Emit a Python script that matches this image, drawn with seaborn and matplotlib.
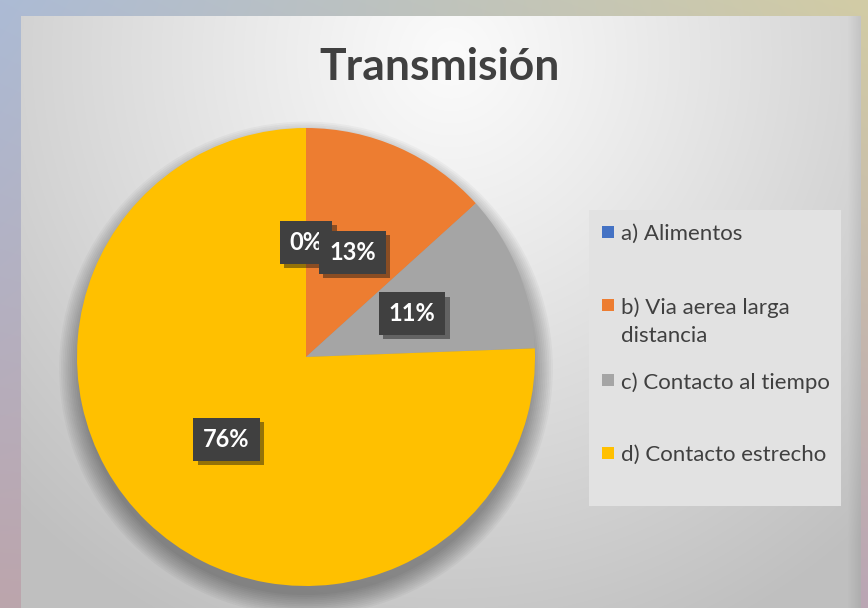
import numpy as np
import matplotlib
matplotlib.use("Agg")
import matplotlib.pyplot as plt
import matplotlib.patheffects as pe
from matplotlib.patches import Circle, Rectangle
import seaborn as sns

# ---- data ----
categories = ["a) Alimentos", "b) Via aerea larga\ndistancia", "c) Contacto al tiempo", "d) Contacto estrecho"]
values = [0, 13.3, 11.1, 75.6]
pct_labels = ["0%", "13%", "11%", "76%"]
colors = ["#4472C4", "#ED7D31", "#A5A5A5", "#FFC000"]
title = "Transmisión"

sns.set_theme(style="white")
plt.rcParams["font.family"] = ["Lato", "DejaVu Sans"]

W, H = 868, 608
fig = plt.figure(figsize=(W / 100, H / 100), dpi=100)

# outer blurred background
bg = fig.add_axes([0, 0, 1, 1], zorder=0)
yy, xx = np.mgrid[0:H, 0:W]
u = xx / (W - 1)
v = yy / (H - 1)
TL = np.array([172, 187, 213]); TR = np.array([210, 204, 165])
BL = np.array([188, 165, 172]); BR = np.array([186, 166, 180])
img = ((1 - u)[..., None] * (1 - v)[..., None] * TL + u[..., None] * (1 - v)[..., None] * TR
       + (1 - u)[..., None] * v[..., None] * BL + u[..., None] * v[..., None] * BR) / 255
bg.imshow(img, aspect="auto", extent=[0, 1, 0, 1])
bg.set_xlim(0, 1); bg.set_ylim(0, 1)
bg.axis("off")

# gray panel
px0, px1, py0 = 21, 861, 16
pw, ph = px1 - px0, H - py0
panel = fig.add_axes([px0 / W, 0, pw / W, ph / H], zorder=1)
py, pxg = np.mgrid[0:ph, 0:pw]
d = np.sqrt(((pxg - 430) / 620) ** 2 + ((py - 40) / 640) ** 2)
val = 251 - 60 * np.clip(d, 0, 1) ** 1.1
edge = np.clip((pxg - (pw - 14)) / 14, 0, 1)
val = val - 18 * edge
pimg = np.repeat((val / 255)[..., None], 3, axis=2)
panel.imshow(pimg, aspect="auto", extent=[0, 1, 0, 1])
panel.set_xlim(0, 1); panel.set_ylim(0, 1)
panel.axis("off")

# title
fig.text(440 / W, 1 - 67 / H, title, ha="center", va="center", fontsize=32,
         fontweight="bold", color="#404040", zorder=5)

# pie
cx, cy, r = 306, 357, 229
ax = fig.add_axes([(cx - r) / W, (H - cy - r) / H, 2 * r / W, 2 * r / H], zorder=3)
for k in range(12):
    ax.add_patch(Circle((0.0, -0.05), 0.99 + 0.008 * k, color="black", alpha=0.03, lw=0,
                        zorder=0, clip_on=False))
wedges, texts, autotexts = ax.pie(values, colors=colors, startangle=90, counterclock=False,
                                  autopct="%1.0f%%", pctdistance=0.5,
                                  wedgeprops=dict(linewidth=0))
for w in wedges:
    w.set_zorder(2)
    w.set_clip_on(False)
for t, lab in zip(autotexts, pct_labels):
    t.set_text(lab)
    t.set_color("white")
    t.set_fontsize(17)
    t.set_fontweight("bold")
    t.set_zorder(4)
    t.set_bbox(dict(boxstyle="square,pad=0.42", facecolor="#404040", edgecolor="none"))
    t.get_bbox_patch().set_path_effects([pe.SimplePatchShadow(offset=(3, -3), alpha=0.45), pe.Normal()])
# draw 13% label above 0% label
autotexts[1].set_zorder(5)
ax.set_xlim(-1, 1); ax.set_ylim(-1, 1)
ax.set_aspect("equal")
ax.axis("off")

# legend box
lx0, lx1, ly0, ly1 = 589, 841, 210, 506
fig.patches.append(Rectangle((lx0 / W, 1 - ly1 / H), (lx1 - lx0) / W, (ly1 - ly0) / H,
                             transform=fig.transFigure, facecolor="#E2E2E2", edgecolor="none", zorder=2))
marker_y = [232, 305, 380, 453]
for cat, col, my in zip(categories, colors, marker_y):
    fig.patches.append(Rectangle((602 / W, 1 - (my + 6) / H), 12 / W, 12 / H,
                                 transform=fig.transFigure, facecolor=col, edgecolor="none", zorder=3))
    fig.text(621 / W, 1 - (my - 8) / H, cat, ha="left", va="top", fontsize=16,
             color="#404040", linespacing=1.5, zorder=4)

fig.savefig("out.png", dpi=100)
